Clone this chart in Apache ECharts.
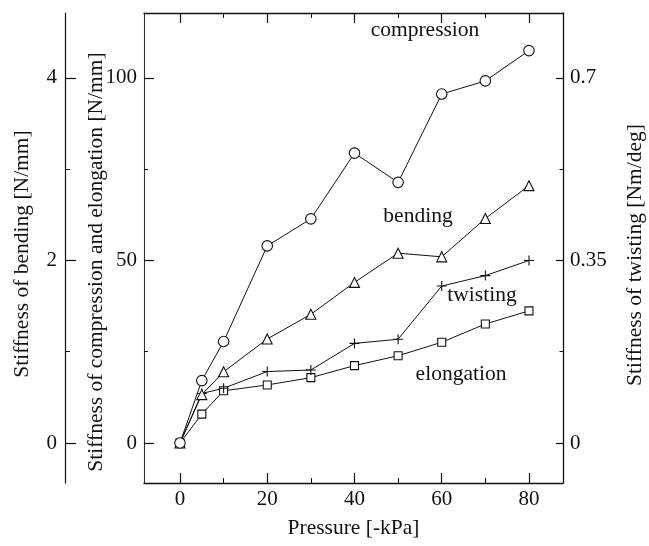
<!DOCTYPE html>
<html>
<head>
<meta charset="utf-8">
<script src="https://cdn.jsdelivr.net/npm/echarts@6/dist/echarts.min.js"></script>
<style>
  html, body { margin: 0; padding: 0; background: #fff; }
  #chart { width: 649px; height: 546px; }
</style>
</head>
<body>
<div id="chart"></div>
<script>
// Pressure steps [-kPa]
const pressure = [0, 5, 10, 20, 30, 40, 50, 60, 70, 80];
// Stiffness of compression [N/mm]
const compression = [0, 17.1, 27.8, 54.0, 61.4, 79.4, 71.4, 95.6, 99.2, 107.5];
// Stiffness of elongation [N/mm]
const elongation = [0, 7.9, 14.3, 15.9, 17.9, 21.2, 23.9, 27.6, 32.6, 36.2];
// Stiffness of bending [N/mm]
const bending = [0, 0.53, 0.78, 1.14, 1.41, 1.76, 2.08, 2.04, 2.46, 2.82];
// Stiffness of twisting [Nm/deg]
const twisting = [0, 0.095, 0.105, 0.137, 0.140, 0.191, 0.199, 0.301, 0.321, 0.35];

// Tick values (labelled and intermediate) of every scale
const xTicks = [0, 20, 40, 60, 80];
const xMinorTicks = [10, 30, 50, 70];
const forceTicks = [0, 50, 100];
const forceMinorTicks = [25, 75];
const bendTicks = [0, 2, 4];
const bendMinorTicks = [1, 3];
const twistTicks = [0, 0.35, 0.7];
const twistMinorTicks = [0.175, 0.525];

// Axis extents
const X_RANGE = [-8.25, 87.8];
const FORCE_RANGE = [-10.96, 117.8];
const BEND_RANGE = [-0.4384, 4.712];
const TWIST_RANGE = [-0.07672, 0.8246];

const FONT = '"Liberation Serif", "Times New Roman", serif';
const INK = '#111';

const pairs = (ys) => pressure.map((x, i) => [x, ys[i]]);

const chart = echarts.init(document.getElementById('chart'), null, { renderer: 'canvas' });

const labelStyle = { color: INK, fontFamily: FONT, fontSize: 21 };
const nameStyle = { color: INK, fontFamily: FONT, fontSize: 21.5 };

// An axis that only carries short intermediate ticks, laid over a labelled one
function minorTickAxis(position, range, values, length, offset) {
  return {
    type: 'value', position, offset: offset || 0, min: range[0], max: range[1],
    axisLine: { show: false, onZero: false },
    axisTick: { show: true, inside: true, length, customValues: values, lineStyle: { color: INK, width: 1 } },
    axisLabel: { show: false, customValues: values },
    splitLine: { show: false }
  };
}

function lineSeries(name, values, symbol, size, yAxisIndex) {
  return {
    name, type: 'line', data: pairs(values),
    xAxisIndex: 0, yAxisIndex,
    symbol, symbolSize: size, showAllSymbol: true,
    lineStyle: { color: INK, width: 1 },
    itemStyle: { color: '#fff', borderColor: INK, borderWidth: 1.1 },
    emphasis: { disabled: true },
    animation: false
  };
}

const option = {
  backgroundColor: '#fff',
  animation: false,
  grid: { left: 144, right: 86, top: 13, bottom: 63, containLabel: false, outerBoundsMode: 'none' },
  xAxis: [
    {
      type: 'value', position: 'bottom', min: X_RANGE[0], max: X_RANGE[1],
      name: 'Pressure [-kPa]', nameLocation: 'middle', nameGap: 34,
      nameTextStyle: nameStyle, nameMoveOverlap: false,
      axisLine: { show: true, onZero: false, lineStyle: { color: INK, width: 1.3 } },
      axisTick: { show: true, inside: true, length: 10, customValues: xTicks, lineStyle: { color: INK, width: 1.2 } },
      axisLabel: { ...labelStyle, margin: 6, customValues: xTicks },
      splitLine: { show: false }
    },
    {
      type: 'value', position: 'top', min: X_RANGE[0], max: X_RANGE[1],
      axisLine: { show: true, onZero: false, lineStyle: { color: INK, width: 1.3 } },
      axisTick: { show: true, inside: true, length: 10, customValues: xTicks, lineStyle: { color: INK, width: 1.2 } },
      axisLabel: { show: false, customValues: xTicks },
      splitLine: { show: false }
    },
    minorTickAxis('bottom', X_RANGE, xMinorTicks, 5),
    minorTickAxis('top', X_RANGE, xMinorTicks, 5)
  ],
  yAxis: [
    {
      // compression and elongation [N/mm]
      type: 'value', position: 'left', offset: 0, min: FORCE_RANGE[0], max: FORCE_RANGE[1],
      name: 'Stiffness of compression and elongation [N/mm]', nameLocation: 'middle', nameRotate: 90,
      nameGap: 37, nameTextStyle: { ...nameStyle, padding: [0, 28, 0, 0] }, nameMoveOverlap: false,
      axisLine: { show: true, onZero: false, lineStyle: { color: '#333', width: 1.1 } },
      axisTick: { show: true, inside: true, length: 10, customValues: forceTicks, lineStyle: { color: INK, width: 1.2 } },
      axisLabel: { ...labelStyle, margin: 7, customValues: forceTicks },
      splitLine: { show: false }
    },
    {
      // bending [N/mm]
      type: 'value', position: 'left', offset: 79, min: BEND_RANGE[0], max: BEND_RANGE[1],
      name: 'Stiffness of bending [N/mm]', nameLocation: 'middle', nameRotate: 90,
      nameGap: 32, nameTextStyle: { ...nameStyle, padding: [0, 12, 0, 0] }, nameMoveOverlap: false,
      axisLine: { show: true, onZero: false, lineStyle: { color: INK, width: 1.2 } },
      axisTick: { show: true, inside: true, length: 11, customValues: bendTicks, lineStyle: { color: INK, width: 1.2 } },
      axisLabel: { ...labelStyle, margin: 8, customValues: bendTicks },
      splitLine: { show: false }
    },
    {
      // twisting [Nm/deg]
      type: 'value', position: 'right', offset: 0, min: TWIST_RANGE[0], max: TWIST_RANGE[1],
      name: 'Stiffness of twisting [Nm/deg]', nameLocation: 'middle', nameRotate: 90,
      nameGap: 61, nameTextStyle: { ...nameStyle, padding: [0, 14, 0, 0] }, nameMoveOverlap: false,
      axisLine: { show: true, onZero: false, lineStyle: { color: INK, width: 1.3 } },
      axisTick: { show: true, inside: true, length: 7, customValues: twistTicks, lineStyle: { color: INK, width: 1.2 } },
      axisLabel: { ...labelStyle, margin: 7, customValues: twistTicks },
      splitLine: { show: false }
    },
    minorTickAxis('left', FORCE_RANGE, forceMinorTicks, 4),
    minorTickAxis('left', BEND_RANGE, bendMinorTicks, 5, 79),
    minorTickAxis('right', TWIST_RANGE, twistMinorTicks, 3.5)
  ],
  graphic: [
    { type: 'text', x: 425, y: 30, style: { text: 'compression', font: '21.5px ' + FONT, fill: INK, align: 'center', verticalAlign: 'middle' } },
    { type: 'text', x: 418, y: 216, style: { text: 'bending', font: '21.5px ' + FONT, fill: INK, align: 'center', verticalAlign: 'middle' } },
    { type: 'text', x: 482, y: 295, style: { text: 'twisting', font: '21.5px ' + FONT, fill: INK, align: 'center', verticalAlign: 'middle' } },
    { type: 'text', x: 461, y: 374, style: { text: 'elongation', font: '21.5px ' + FONT, fill: INK, align: 'center', verticalAlign: 'middle' } }
  ],
  series: [
    lineSeries('elongation', elongation, 'rect', 8, 0),
    lineSeries('twisting', twisting, 'path://M0,5L10,5M5,0L5,10', 10, 2),
    lineSeries('bending', bending, 'triangle', 10, 1),
    lineSeries('compression', compression, 'circle', 10.5, 0)
  ]
};

chart.setOption(option);
</script>
</body>
</html>
